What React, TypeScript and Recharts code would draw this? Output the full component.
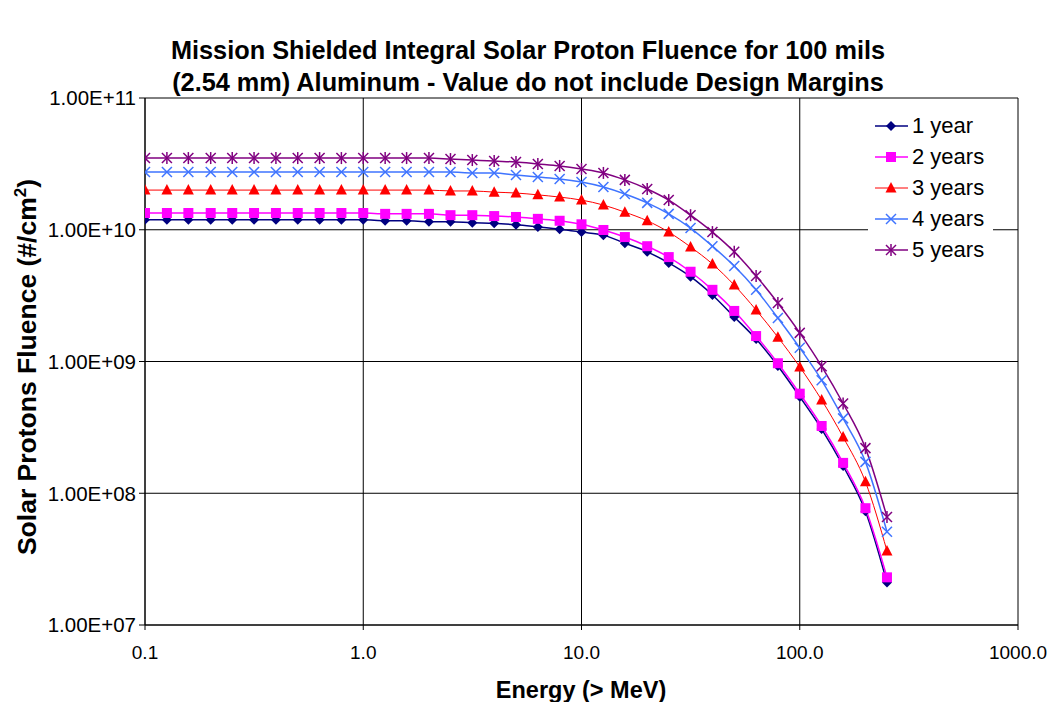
import { CartesianGrid, Line, LineChart, XAxis, YAxis } from "recharts"

// energy thresholds (MeV)
const energies = [
  0.1, 0.126, 0.158, 0.2, 0.251, 0.316, 0.398, 0.501, 0.631, 0.794,
  1.0, 1.26, 1.58, 2.0, 2.51, 3.16, 3.98, 5.01, 6.31, 7.94,
  10, 12.6, 15.8, 20, 25.1, 31.6, 39.8, 50.1, 63.1, 79.4,
  100, 126, 158, 200, 251,
]

const year1 = [
  1.19e10, 1.19e10, 1.19e10, 1.19e10, 1.19e10, 1.19e10, 1.19e10, 1.19e10, 1.19e10, 1.19e10,
  1.19e10, 1.17e10, 1.17e10, 1.15e10, 1.15e10, 1.13e10, 1.12e10, 1.09e10, 1.05e10, 1.01e10,
  9.6e9, 9.1e9, 7.9e9, 6.8e9, 5.6e9, 4.4e9, 3.2e9, 2.18e9, 1.48e9, 9.24e8,
  5.4e8, 3.07e8, 1.61e8, 7.3e7, 2.1e7,
]
const year2 = [
  1.34e10, 1.34e10, 1.34e10, 1.34e10, 1.34e10, 1.34e10, 1.34e10, 1.34e10, 1.34e10, 1.34e10,
  1.34e10, 1.32e10, 1.32e10, 1.32e10, 1.29e10, 1.29e10, 1.27e10, 1.25e10, 1.21e10, 1.17e10,
  1.1e10, 9.96e9, 8.8e9, 7.5e9, 6.2e9, 4.8e9, 3.5e9, 2.42e9, 1.56e9, 9.7e8,
  5.7e8, 3.24e8, 1.7e8, 7.7e7, 2.3e7,
]
const year3 = [
  2.0e10, 2.0e10, 2.0e10, 2.0e10, 2.0e10, 2.0e10, 2.0e10, 2.0e10, 2.0e10, 2.0e10,
  2.0e10, 2.0e10, 2.0e10, 2.0e10, 1.97e10, 1.97e10, 1.93e10, 1.9e10, 1.84e10, 1.77e10,
  1.68e10, 1.54e10, 1.36e10, 1.17e10, 9.6e9, 7.4e9, 5.5e9, 3.8e9, 2.46e9, 1.53e9,
  9.1e8, 5.1e8, 2.67e8, 1.22e8, 3.65e7,
]
const year4 = [
  2.74e10, 2.74e10, 2.74e10, 2.74e10, 2.74e10, 2.74e10, 2.74e10, 2.74e10, 2.74e10, 2.74e10,
  2.74e10, 2.74e10, 2.74e10, 2.74e10, 2.74e10, 2.7e10, 2.7e10, 2.6e10, 2.51e10, 2.43e10,
  2.3e10, 2.11e10, 1.87e10, 1.6e10, 1.32e10, 1.03e10, 7.5e9, 5.3e9, 3.5e9, 2.14e9,
  1.27e9, 7.2e8, 3.7e8, 1.73e8, 5.1e7,
]
const year5 = [
  3.5e10, 3.5e10, 3.5e10, 3.5e10, 3.5e10, 3.5e10, 3.5e10, 3.5e10, 3.5e10, 3.5e10,
  3.5e10, 3.5e10, 3.5e10, 3.5e10, 3.44e10, 3.38e10, 3.32e10, 3.27e10, 3.16e10, 3.05e10,
  2.89e10, 2.7e10, 2.39e10, 2.04e10, 1.68e10, 1.29e10, 9.6e9, 6.8e9, 4.46e9, 2.78e9,
  1.65e9, 9.2e8, 4.8e8, 2.2e8, 6.6e7,
]

const xTicks = [0.1, 1, 10, 100, 1000]
const yTicks = [1e7, 1e8, 1e9, 1e10, 1e11]

const data = energies.map((e, i) => ({
  energy: e,
  y1: year1[i],
  y2: year2[i],
  y3: year3[i],
  y4: year4[i],
  y5: year5[i],
}))

const font = "'Liberation Sans', Arial, sans-serif"

type Shape = "diamond" | "square" | "triangle" | "cross" | "star"

function Marker({ shape, color, cx, cy }: { shape: Shape; color: string; cx: number; cy: number }) {
  if (shape === "diamond")
    return <polygon points={`${cx},${cy - 5} ${cx + 5},${cy} ${cx},${cy + 5} ${cx - 5},${cy}`} fill={color} />
  if (shape === "square")
    return <rect x={cx - 5} y={cy - 5} width={10} height={10} fill={color} />
  if (shape === "triangle")
    return <polygon points={`${cx},${cy - 6} ${cx + 5.5},${cy + 4.5} ${cx - 5.5},${cy + 4.5}`} fill={color} />
  if (shape === "cross")
    return (
      <g stroke={color} strokeWidth={1.5}>
        <line x1={cx - 5} y1={cy - 5} x2={cx + 5} y2={cy + 5} />
        <line x1={cx - 5} y1={cy + 5} x2={cx + 5} y2={cy - 5} />
      </g>
    )
  return (
    <g stroke={color} strokeWidth={1.5}>
      <line x1={cx - 5} y1={cy - 5} x2={cx + 5} y2={cy + 5} />
      <line x1={cx - 5} y1={cy + 5} x2={cx + 5} y2={cy - 5} />
      <line x1={cx} y1={cy - 6} x2={cx} y2={cy + 6} />
    </g>
  )
}

const makeDot = (shape: Shape, color: string) => (p: any) => (
  <g key={`${shape}-${p.index}`}>
    <Marker shape={shape} color={color} cx={p.cx} cy={p.cy} />
  </g>
)

const series = [
  { key: "y1", name: "1 year", color: "#000080", shape: "diamond" as Shape, width: 1.5 },
  { key: "y2", name: "2 years", color: "#FF00FF", shape: "square" as Shape, width: 1.5 },
  { key: "y3", name: "3 years", color: "#FF0000", shape: "triangle" as Shape, width: 1 },
  { key: "y4", name: "4 years", color: "#3F74FF", shape: "cross" as Shape, width: 1.5 },
  { key: "y5", name: "5 years", color: "#800080", shape: "star" as Shape, width: 1.5 },
]

const yFormatter = (v: number) => {
  const e = Math.round(Math.log10(v))
  return `1.00E+${String(e).padStart(2, "0")}`
}

export default function App() {
  return (
    <div style={{ position: "absolute", left: 0, top: 0, width: 1049, height: 702, background: "#fff", fontFamily: font }}>
      <div
        style={{
          position: "absolute", left: 0, top: 34, width: 1056, textAlign: "center",
          fontWeight: "bold", fontSize: 25.3, lineHeight: "32px", color: "#000",
        }}
      >
        Mission Shielded Integral Solar Proton Fluence for 100 mils
        <br />
        (2.54 mm) Aluminum - Value do not include Design Margins
      </div>
      <LineChart
        width={1049}
        height={702}
        data={data}
        margin={{ top: 98, right: 31, bottom: 0, left: 8 }}
      >
        <CartesianGrid stroke="#000" strokeWidth={1} />
        <XAxis
          dataKey="energy"
          type="number"
          scale="log"
          domain={[0.1, 1000]}
          ticks={xTicks}
          allowDataOverflow
          interval={0}
          height={77}
          tickFormatter={(v: number) => v.toFixed(1)}
          tick={{ fill: "#000", fontSize: 19, fontFamily: font }}
          stroke="#000"
          tickSize={5}
          tickMargin={16}
        />
        <YAxis
          type="number"
          scale="log"
          domain={[1e7, 1e11]}
          ticks={yTicks}
          allowDataOverflow
          interval={0}
          width={137}
          tickFormatter={yFormatter}
          tick={{ fill: "#000", fontSize: 20.5, fontFamily: font }}
          stroke="#000"
          tickSize={6}
          tickMargin={3}
        />
        {series.map(s => (
          <Line
            key={s.key}
            type="monotone"
            dataKey={s.key}
            name={s.name}
            stroke={s.color}
            strokeWidth={s.width}
            dot={makeDot(s.shape, s.color)}
            activeDot={false}
            isAnimationActive={false}
          />
        ))}
      </LineChart>
      <div
        style={{
          position: "absolute", left: 581, top: 690, transform: "translate(-50%, -50%)",
          fontWeight: "bold", fontSize: 23.5, color: "#000", whiteSpace: "nowrap",
        }}
      >
        Energy (&gt; MeV)
      </div>
      <div
        style={{
          position: "absolute", left: 27, top: 367, transform: "translate(-50%, -50%) rotate(-90deg)",
          fontWeight: "bold", fontSize: 26.5, color: "#000", whiteSpace: "nowrap", lineHeight: "30px",
        }}
      >
        Solar Protons Fluence (#/cm<sup style={{ fontSize: 17, lineHeight: 0 }}>2</sup>)
      </div>
      <div
        style={{
          position: "absolute", left: 868, top: 110, width: 125, height: 157, background: "#fff",
        }}
      >
        {series.map((s, i) => (
          <div key={s.key} style={{ position: "absolute", left: 0, top: i * 31, height: 31, display: "flex", alignItems: "center" }}>
            <svg width={42} height={20}>
              <line x1={7} y1={10} x2={40} y2={10} stroke={s.color} strokeWidth={s.width} />
              <Marker shape={s.shape} color={s.color} cx={23} cy={10} />
            </svg>
            <span style={{ fontSize: 22, color: "#000", marginLeft: 2 }}>{s.name}</span>
          </div>
        ))}
      </div>
    </div>
  )
}
